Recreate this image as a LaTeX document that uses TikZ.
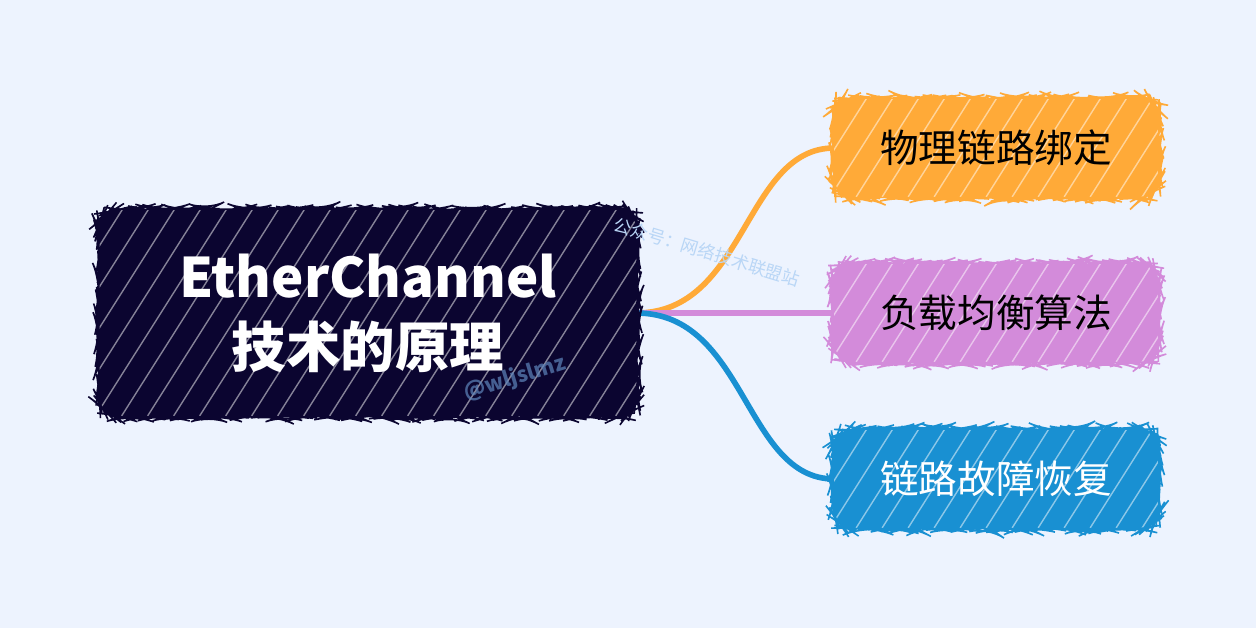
\documentclass[tikz,border=0pt]{standalone}
\usepackage{fontspec}
\setmainfont{Noto Sans CJK SC}
\usetikzlibrary{backgrounds,decorations.pathmorphing}

\definecolor{pagebg}{HTML}{EDF3FE}
\definecolor{rootnavy}{HTML}{0B0530}
\definecolor{bindorange}{HTML}{FFAA38}
\definecolor{balpurple}{HTML}{D38BDA}
\definecolor{recblue}{HTML}{1990D2}
\definecolor{wmblue}{HTML}{B9D6F6}
\definecolor{wmdark}{HTML}{5F86BC}

\tikzset{
  rootbox/.style={minimum width=10.72cm, minimum height=4.1cm, text=white,
    font=\bfseries\fontsize{31}{40}\selectfont, align=center},
  leafbox/.style={minimum width=6.46cm, minimum height=1.94cm,
    font=\fontsize{22}{26}\selectfont},
  link/.style={line width=3.2pt, draw=#1, line cap=round},
  hatch/.style={white, line width=0.8pt, opacity=0.5},
  rough/.style={decorate, decoration={random steps, segment length=2pt, amplitude=0.5pt}}
}

% sketchy filled box behind a node: name, colour
\newcommand{\hatchbox}[2]{%
  \fill[#2, rounded corners=11pt] (#1.south west) rectangle (#1.north east);
  \draw[#2, line width=0.9pt, rough, rounded corners=11pt] (#1.south west) rectangle (#1.north east);
  \begin{scope}
    \clip[rounded corners=11pt] (#1.south west) rectangle (#1.north east);
    \foreach \k in {-420,-394,...,560}
      \draw[hatch] ([xshift=\k*0.02cm]#1.south west) -- ++(380,-600);
  \end{scope}}

\begin{document}
\begin{tikzpicture}[x=0.02cm, y=-0.02cm]
  \useasboundingbox (0,0) rectangle (1256,628);

  \node[rootbox] (root) at (368,313) {EtherChannel\\技术的原理};
  \node[leafbox] (bind) at (996,148) {物理链路绑定};
  \node[leafbox] (balance) at (996,313) {负载均衡算法};
  \node[leafbox, text=white] (recover) at (996,479) {链路故障恢复};

  \begin{scope}[on background layer]
    \fill[pagebg] (0,0) rectangle (1256,628);
    \draw[link=bindorange] (root.east) .. controls +(110,0) and +(-90,0) .. (bind.west);
    \draw[link=balpurple] (root.east) -- (balance.west);
    \draw[link=recblue] (root.east) .. controls +(110,0) and +(-90,0) .. (recover.west);
    \hatchbox{root}{rootnavy}
    \hatchbox{bind}{bindorange}
    \hatchbox{balance}{balpurple}
    \hatchbox{recover}{recblue}
  \end{scope}

  % watermarks
  \node[rotate=-17, text=wmblue, font=\fontsize{10}{12}\selectfont] (wmA) at (707,252) {公众号：网络技术联盟站};
  \node[rotate=17, text=wmdark, opacity=0.7, font=\bfseries\fontsize{12}{14}\selectfont] (wmB) at (515,378) {@wljslmz};
\end{tikzpicture}
\end{document}
